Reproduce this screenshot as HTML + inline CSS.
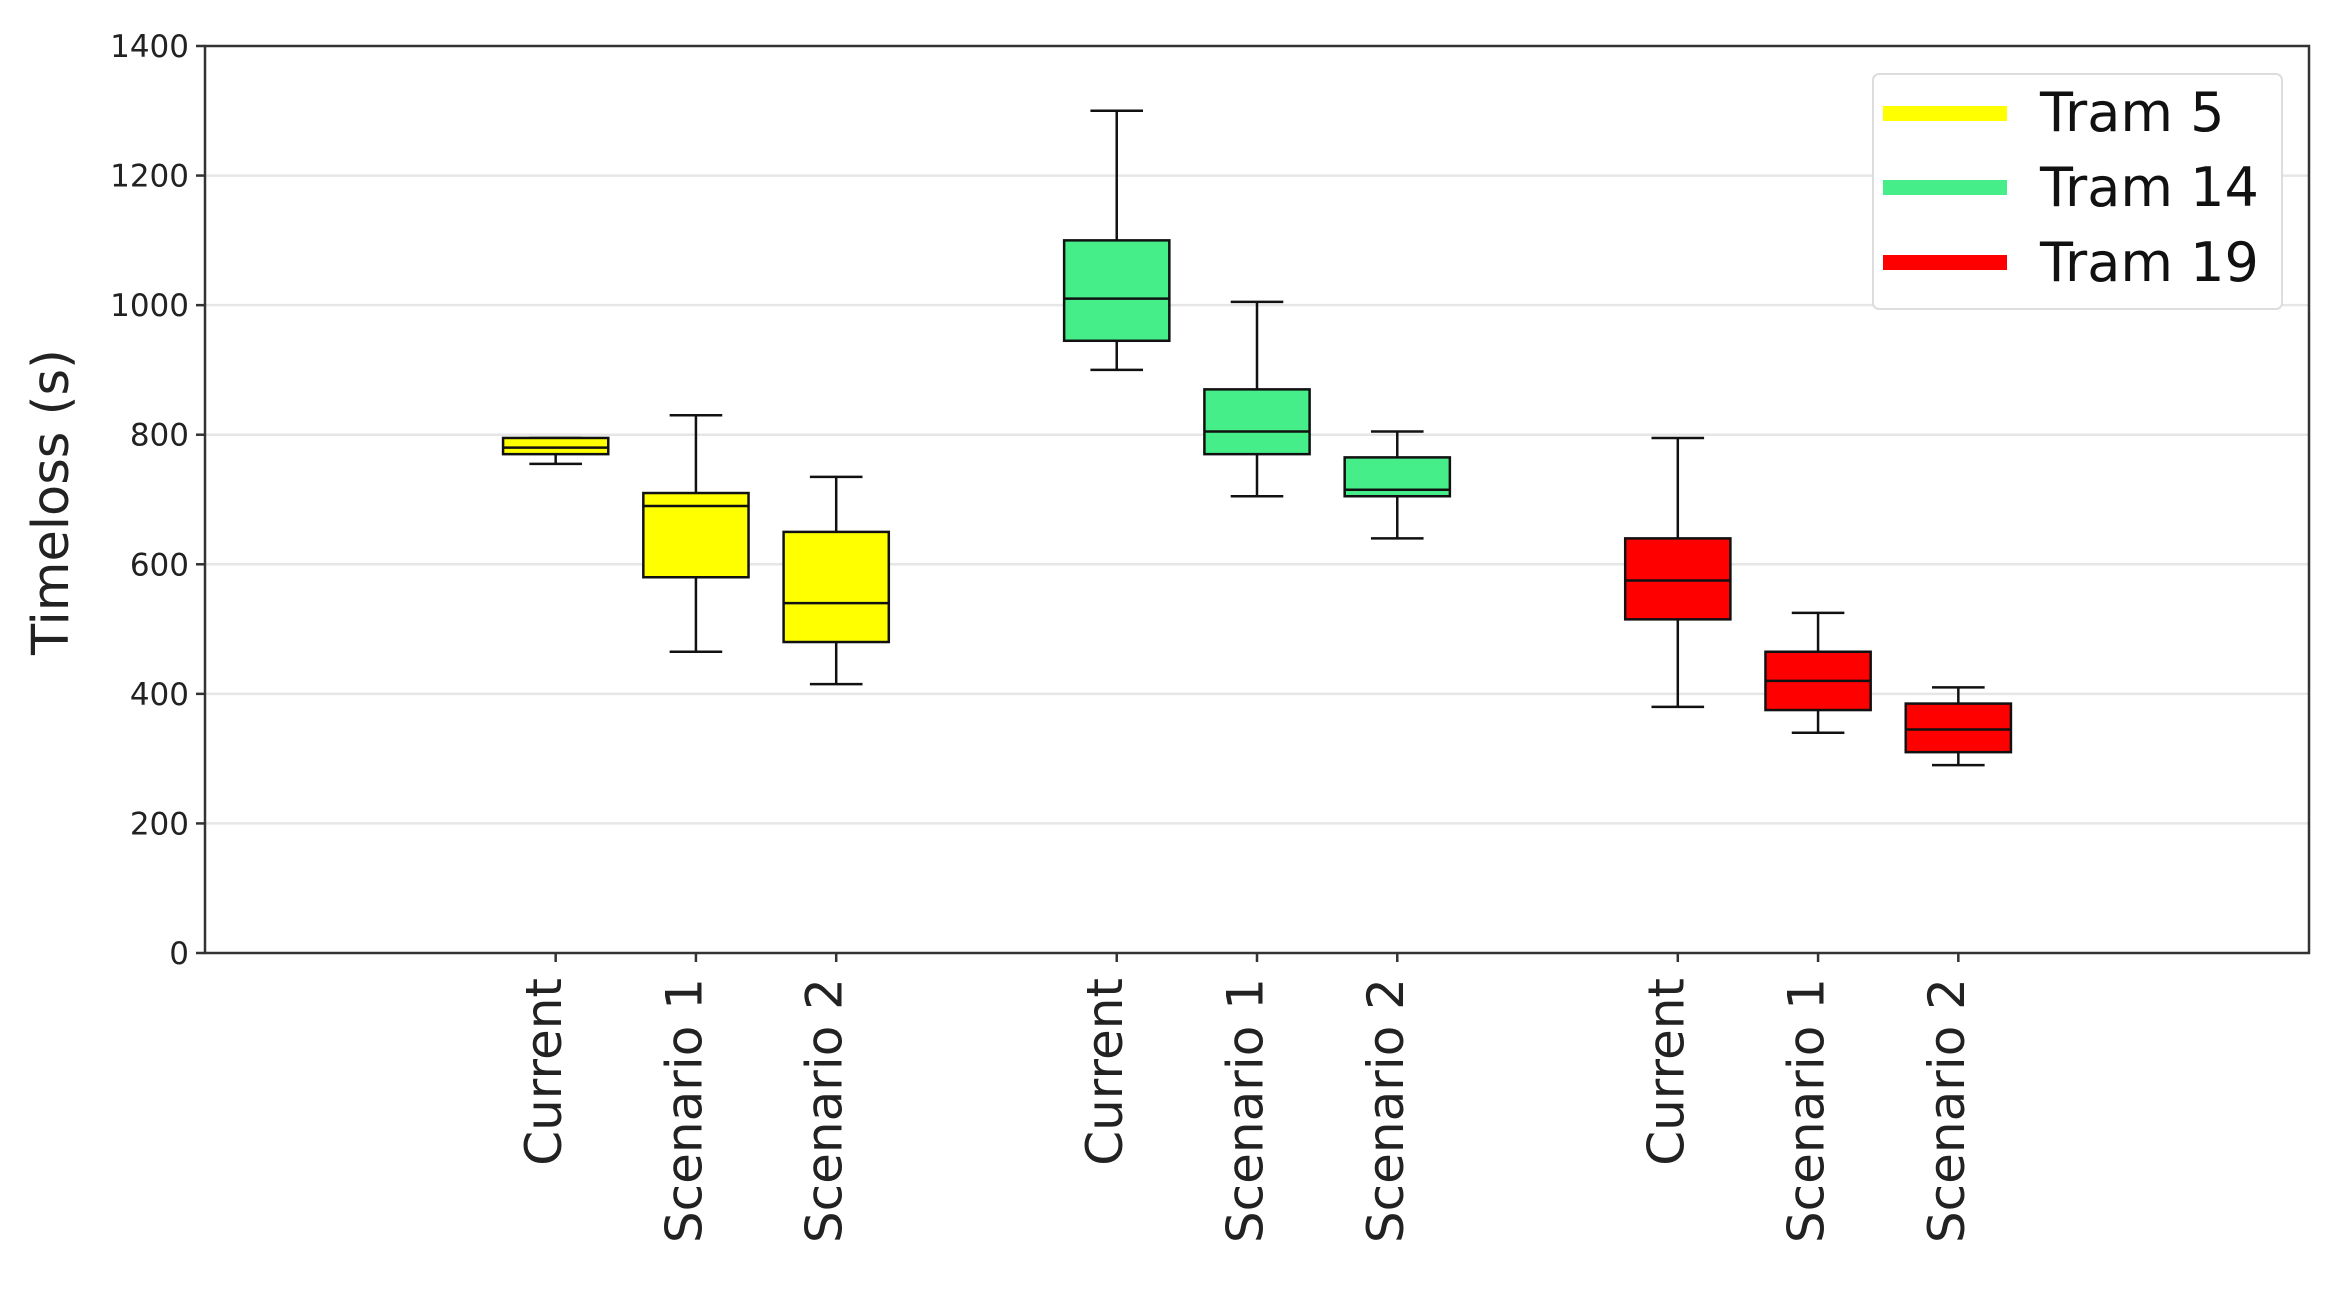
<!DOCTYPE html>
<html><head><meta charset="utf-8"><style>
html,body{margin:0;padding:0;background:#fff;}
svg{display:block;font-family:"DejaVu Sans","Liberation Sans",sans-serif;}
</style></head><body>
<svg id="chart" width="2331" height="1311" viewBox="0 0 2331 1311" xmlns="http://www.w3.org/2000/svg">
<g id="grid"></g>
<g id="boxes"></g>
<rect x="205" y="46" width="2104" height="907" fill="none" stroke="#333" stroke-width="2.5"/>
<g id="yaxis"></g>
<g id="xaxis"></g>
<text transform="translate(68,502) rotate(-90)" text-anchor="middle" font-size="51" fill="#222">Timeloss (s)</text>
<g>
<rect x="1873" y="74" width="409" height="235" rx="6" fill="#fff" stroke="#ddd" stroke-width="2"/>
<g><rect x="1883" y="106" width="124" height="15" fill="#ffff00"/><text x="2040" y="131" font-size="54" fill="#111">Tram 5</text></g>
<g><rect x="1883" y="180" width="124" height="15" fill="#45ee88"/><text x="2040" y="206" font-size="54" fill="#111">Tram 14</text></g>
<g><rect x="1883" y="255" width="124" height="15" fill="#ff0000"/><text x="2040" y="281" font-size="54" fill="#111">Tram 19</text></g>
</g>
</svg>
<script>
const categories = ["Current","Scenario 1","Scenario 2","Current","Scenario 1","Scenario 2","Current","Scenario 1","Scenario 2"];
const positions = [3,4,5,7,8,9,11,12,13];
const groups = ["Tram 5","Tram 5","Tram 5","Tram 14","Tram 14","Tram 14","Tram 19","Tram 19","Tram 19"];
const whiskerLow = [755,465,415,900,705,640,380,340,290];
const q1 = [770,580,480,945,770,705,515,375,310];
const median = [780,690,540,1010,805,715,575,420,345];
const q3 = [795,710,650,1100,870,765,640,465,385];
const whiskerHigh = [795,830,735,1300,1005,805,795,525,410];
const yTicks = [0,200,400,600,800,1000,1200,1400];
const groupColors = {"Tram 5":"#ffff00","Tram 14":"#45ee88","Tram 19":"#ff0000"};

const L=205,R=2309,T=46,B=953, XMIN=0.5, XMAX=15.5, YMIN=0, YMAX=1400;
const xs = p => L + (p-XMIN)/(XMAX-XMIN)*(R-L);
const ys = v => B - (v-YMIN)/(YMAX-YMIN)*(B-T);
const NS="http://www.w3.org/2000/svg";
function mk(tag, attrs, parent){const e=document.createElementNS(NS,tag);for(const k in attrs)e.setAttribute(k,attrs[k]);parent.appendChild(e);return e;}
const grid=document.getElementById('grid'), yaxis=document.getElementById('yaxis'), xaxis=document.getElementById('xaxis'), boxes=document.getElementById('boxes');
yTicks.forEach(t=>{
  const y=ys(t);
  if(t>YMIN && t<YMAX){const g=mk('line',{x1:L,x2:R,y1:y,y2:y,stroke:'#e6e6e6','stroke-width':2.5},grid);
  
  }
  mk('line',{x1:L-9,x2:L,y1:y,y2:y,stroke:'#333','stroke-width':2.5},yaxis);
  const tx=mk('text',{x:L-16,y:y+11,'text-anchor':'end','font-size':31,fill:'#222'},yaxis);
  tx.textContent=t;
  
  
});
const bw=0.75, cw=0.375;
categories.forEach((c,i)=>{
  const p=positions[i], cx=xs(p);
  mk('line',{x1:cx,x2:cx,y1:B,y2:B+9,stroke:'#333','stroke-width':2.5},xaxis);
  const lbl=mk('text',{transform:`translate(${cx-8},${B+25}) rotate(-90)`,'text-anchor':'end','dominant-baseline':'middle','font-size':50,fill:'#222'},xaxis);
  lbl.textContent=c;
  
  
  const g=mk('g',{},boxes);
  
  
  const x0=xs(p-bw/2), x1=xs(p+bw/2), c0=xs(p-cw/2), c1=xs(p+cw/2);
  const st={stroke:'#111','stroke-width':2.5};
  mk('line',Object.assign({x1:cx,x2:cx,y1:ys(whiskerLow[i]),y2:ys(q1[i])},st),g);
  mk('line',Object.assign({x1:cx,x2:cx,y1:ys(q3[i]),y2:ys(whiskerHigh[i])},st),g);
  mk('line',Object.assign({x1:c0,x2:c1,y1:ys(whiskerLow[i]),y2:ys(whiskerLow[i])},st),g);
  mk('line',Object.assign({x1:c0,x2:c1,y1:ys(whiskerHigh[i]),y2:ys(whiskerHigh[i])},st),g);
  mk('rect',Object.assign({x:x0,y:ys(q3[i]),width:x1-x0,height:ys(q1[i])-ys(q3[i]),fill:groupColors[groups[i]]},st),g);
  mk('line',Object.assign({x1:x0,x2:x1,y1:ys(median[i]),y2:ys(median[i])},st),g);
});
</script>
</body></html>
